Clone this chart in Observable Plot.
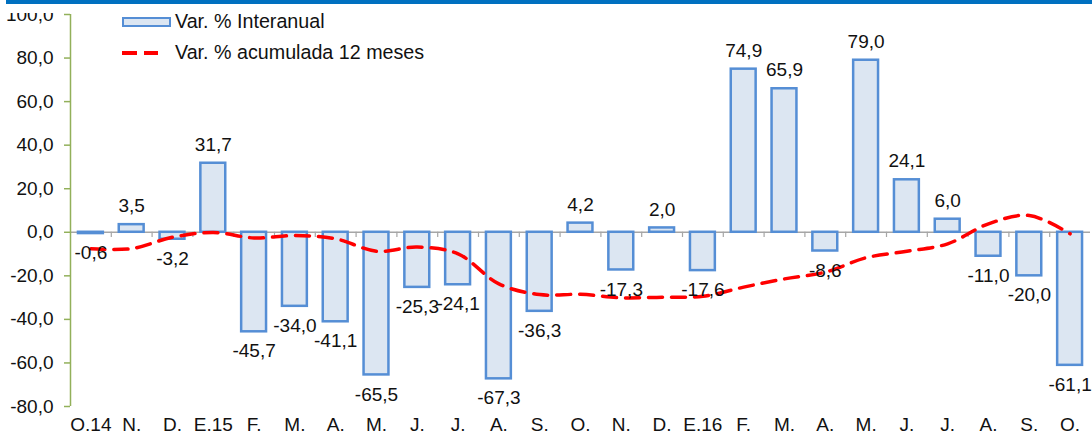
<!DOCTYPE html>
<html><head><meta charset="utf-8">
<script src="https://cdn.jsdelivr.net/npm/d3@7"></script>
<script src="https://cdn.jsdelivr.net/npm/@observablehq/plot@0.6"></script>
<style>
body{margin:0;background:#fff;}
#wrap{position:relative;width:1092px;height:434px;overflow:hidden;font-family:"Liberation Sans",Arial,sans-serif;background:#fff;}
#wrap svg{position:absolute;left:0;top:0;}
.mask{position:absolute;left:0;top:0;width:1092px;height:13px;background:#fff;}
.topbar{position:absolute;left:6px;top:0;width:1086px;height:3.5px;background:#0070c0;}
.leg{position:absolute;font-size:19.7px;color:#111;line-height:1;white-space:nowrap;}
.sw{position:absolute;box-sizing:border-box;border:2.5px solid #558ed5;background:#dce6f2;}
.dash{position:absolute;height:4px;background:#ff0000;}
</style></head><body><div id="wrap"></div>
<script>
const categories = ["O.14","N.","D.","E.15","F.","M.","A.","M.","J.","J.","A.","S.","O.","N.","D.","E.16","F.","M.","A.","M.","J.","J.","A.","S.","O."];
const interanual = [-0.6,3.5,-3.2,31.7,-45.7,-34.0,-41.1,-65.5,-25.3,-24.1,-67.3,-36.3,4.2,-17.3,2.0,-17.6,74.9,65.9,-8.6,79.0,24.1,6.0,-11.0,-20.0,-61.1];
const acumulada = [-7.6,-7.5,-2.3,-0.1,-2.6,-1.5,-3.0,-8.7,-6.8,-9.9,-23.7,-28.6,-28.5,-30.1,-29.8,-29.4,-25.2,-21.4,-18.3,-11.7,-8.7,-5.3,3.9,7.7,-0.7];
const yTicks = [-80,-60,-40,-20,0,20,40,60,80,100];
const seriesNames = ["Var. % Interanual","Var. % acumulada 12 meses"];

const n = categories.length;
const barHalf = 0.305; // half of bar width as a fraction of the category step
const data = categories.map((c, i) => ({i, c, v: interanual[i], a: acumulada[i]}));
const fmt = d => d.toFixed(1).replace(".", ",");
const olive = "#92b05a";

const chart = Plot.plot({
  width: 1092,
  height: 434,
  marginLeft: 70,
  marginRight: 2,
  marginTop: 14,
  marginBottom: 28,
  style: {fontFamily: "'Liberation Sans', Arial, sans-serif", fontSize: "19px", color: "#111", background: "transparent"},
  x: {type: "linear", domain: [-0.5, n - 0.5], axis: null, label: null},
  y: {domain: [-80, 100], axis: null, label: null},
  marks: [
    Plot.ruleY([0], {stroke: "#a6a6a6", strokeWidth: 1.5}),
    Plot.rectY(data, {x1: d => d.i - barHalf, x2: d => d.i + barHalf, y1: 0, y2: "v", fill: "#dce6f2", stroke: "#558ed5", strokeWidth: 2.5}),
    Plot.ruleX(d3.range(n - 1), {x: d => d + 0.5, y1: 0, y2: -2.4, stroke: "#a6a6a6", strokeWidth: 1.2}),
    Plot.ruleX([-0.5], {y1: -80, y2: 100, stroke: olive, strokeWidth: 1.5}),
    Plot.axisY({ticks: yTicks, tickSize: 6, tickPadding: 11, tickFormat: fmt, stroke: olive, strokeWidth: 1.5, fontSize: 19, label: null}),
    Plot.axisX({ticks: d3.range(n), tickSize: 0, tickPadding: 11, tickFormat: i => categories[i], fontSize: 19, label: null}),
    Plot.line(data, {x: "i", y: "a", stroke: "#ff0000", strokeWidth: 3.5, strokeDasharray: "14,9", curve: "catmull-rom"}),
    Plot.text(data.filter(d => d.v >= 0), {x: "i", y: "v", text: d => fmt(d.v), dy: -18.5, fontSize: 19, fill: "#111"}),
    Plot.text(data.filter(d => d.v < 0), {x: "i", y: "v", text: d => fmt(d.v), dy: 19.5, fontSize: 19, fill: "#111"})
  ]
});

const wrap = document.getElementById("wrap");
wrap.appendChild(chart);
wrap.insertAdjacentHTML("beforeend", `
  <div class="mask"></div>
  <div class="topbar"></div>
  <div class="sw" style="left:122px;top:17px;width:49px;height:10px;"></div>
  <div class="leg" style="left:175px;top:12px;">${seriesNames[0]}</div>
  <div class="dash" style="left:122px;top:50.5px;width:15px;"></div>
  <div class="dash" style="left:144px;top:50.5px;width:14px;"></div>
  <div class="leg" style="left:175px;top:42.5px;">${seriesNames[1]}</div>
`);
</script>
</body></html>
